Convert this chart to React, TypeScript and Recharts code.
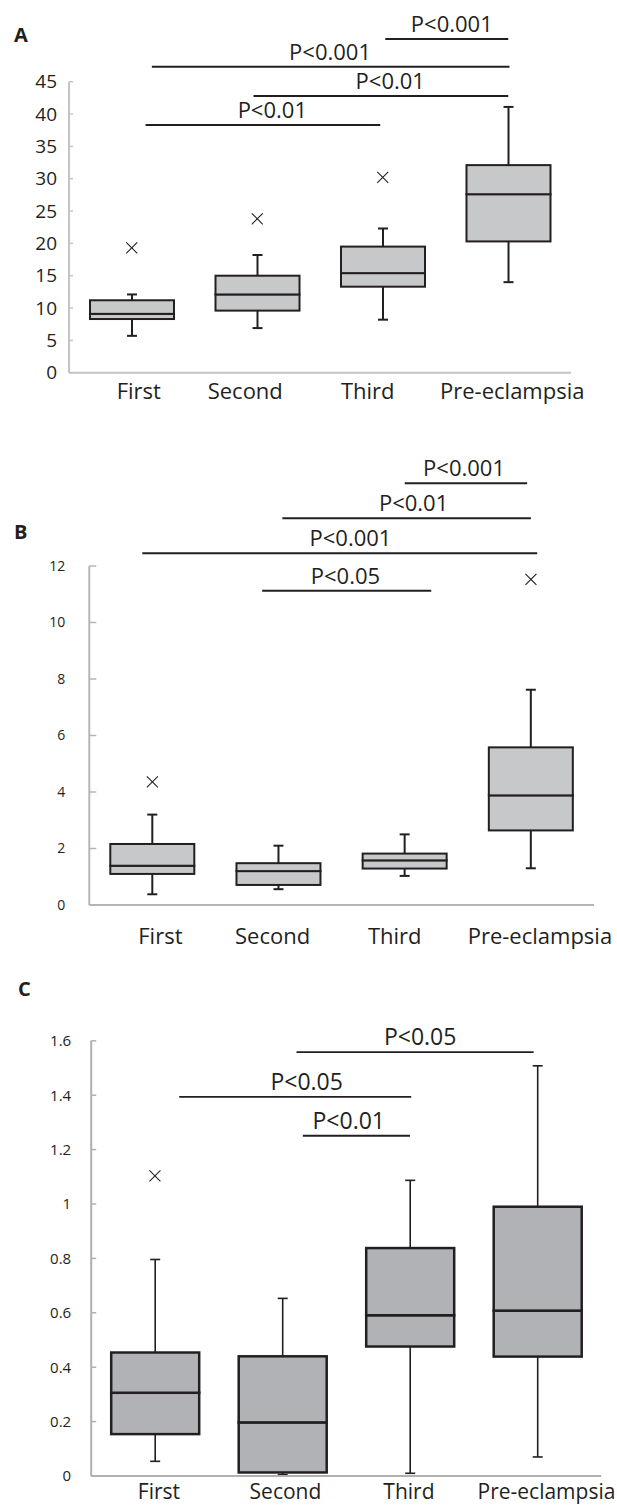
import React from 'react';
import { ComposedChart, Bar, XAxis, YAxis, Scatter, ReferenceLine, ReferenceDot } from 'recharts';

const categories = ['First', 'Second', 'Third', 'Pre-eclampsia'];
const groupPos = [1, 2, 3, 4];

// panel A
const aMin = [5.7, 6.9, 8.2, 14.0];
const aQ1 = [8.3, 9.6, 13.3, 20.3];
const aMedian = [9.1, 12.1, 15.4, 27.6];
const aQ3 = [11.2, 15.0, 19.5, 32.1];
const aMax = [12.1, 18.2, 22.3, 41.1];
const aOutliers = [19.3, 23.8, 30.2, null];
const aTicks = [0, 5, 10, 15, 20, 25, 30, 35, 40, 45];
const aSigText = ['P<0.001', 'P<0.001', 'P<0.01', 'P<0.01'];
const aSigFrom = [3.02, 1.16, 1.97, 1.11];
const aSigTo = [4.0, 4.01, 4.0, 2.98];
const aSigLevel = [51.6, 47.3, 42.8, 38.3];
const aSigLabelAt = [3.55, 2.58, 3.06, 2.12];

// panel B
const bMin = [0.38, 0.56, 1.03, 1.3];
const bQ1 = [1.1, 0.71, 1.29, 2.64];
const bMedian = [1.39, 1.2, 1.58, 3.88];
const bQ3 = [2.16, 1.48, 1.82, 5.58];
const bMax = [3.2, 2.1, 2.5, 7.62];
const bOutliers = [4.36, null, null, 11.53];
const bTicks = [0, 2, 4, 6, 8, 10, 12];
const bSigText = ['P<0.001', 'P<0.01', 'P<0.001', 'P<0.05'];
const bSigFrom = [3.0, 2.03, 0.92, 1.87];
const bSigTo = [3.97, 4.0, 4.05, 3.21];
const bSigLevel = [14.93, 13.69, 12.45, 11.12];
const bSigLabelAt = [3.47, 3.07, 2.57, 2.53];

// panel C
const cMin = [0.054, 0.005, 0.01, 0.07];
const cQ1 = [0.154, 0.013, 0.476, 0.439];
const cMedian = [0.306, 0.197, 0.591, 0.608];
const cQ3 = [0.454, 0.44, 0.838, 0.99];
const cMax = [0.796, 0.653, 1.087, 1.508];
const cOutliers = [1.103, null, null, null];
const cTicks = [0, 0.2, 0.4, 0.6, 0.8, 1, 1.2, 1.4, 1.6];
const cSigText = ['P<0.05', 'P<0.05', 'P<0.01'];
const cSigFrom = [2.11, 1.19, 2.16];
const cSigTo = [3.97, 3.01, 3.0];
const cSigLevel = [1.558, 1.394, 1.251];
const cSigLabelAt = [3.08, 2.19, 2.52];

const INK = '#231f20';
const FONT = '"Open Sans", sans-serif';

function buildRows(min: number[], q1: number[], med: number[], q3: number[], max: number[]) {
    return categories.map((name, i) => ({
        name,
        base: min[i],
        lowWhisker: q1[i] - min[i],
        lowBox: med[i] - q1[i],
        highBox: q3[i] - med[i],
        highWhisker: max[i] - q3[i],
    }));
}

const whisker = (end: 'top' | 'bottom', sw: number) => (p: any) => {
    const cx = p.x + p.width / 2;
    const capY = end === 'top' ? p.y : p.y + p.height;
    return (
        <g stroke={INK} strokeWidth={sw}>
            <line x1={cx} y1={p.y} x2={cx} y2={p.y + p.height} />
            <line x1={cx - 5} y1={capY} x2={cx + 5} y2={capY} />
        </g>
    );
};

const boxShape = (fill: string, sw: number) => (p: any) => (
    <rect x={p.x} y={p.y} width={p.width} height={p.height} fill={fill} stroke={INK} strokeWidth={sw} />
);

function Cross({ cx, cy }: any) {
    const s = 5.5;
    return (
        <g stroke={INK} strokeWidth={1.1}>
            <line x1={cx - s} y1={cy - s} x2={cx + s} y2={cy + s} />
            <line x1={cx - s} y1={cy + s} x2={cx + s} y2={cy - s} />
        </g>
    );
}

function CategoryTick({ x, y, payload, shift, size }: any) {
    const i = categories.indexOf(payload.value);
    return (
        <text x={x + (shift[i] ?? 0)} y={y} dy="0.71em" textAnchor="middle" fill={INK} fontSize={size} fontFamily={FONT}>
            {payload.value}
        </text>
    );
}

interface PanelProps {
    top: number; height: number; margin: any; xAxisHeight: number; xTickMargin: number; xFont: number; labelShift: number[];
    min: number[]; q1: number[]; med: number[]; q3: number[]; max: number[]; outliers: (number | null)[];
    ticks: number[]; yFont: number; yTickSize: number; yTickMargin: number;
    sigText: string[]; sigFrom: number[]; sigTo: number[]; sigLevel: number[]; sigLabelAt: number[]; sigFont: number; sigWidth: number;
    boxWidth: number; boxFill: string; boxStroke: number; whiskerStroke: number; axisColor: string;
}

function BoxPanel(p: PanelProps) {
    const rows = buildRows(p.min, p.q1, p.med, p.q3, p.max);
    const outlierRows = groupPos.map((x, i) => ({ x, y: p.outliers[i] })).filter(d => d.y != null);
    const sigLines = p.sigText.map((t, i) => (
        <ReferenceLine key={`l${i}`} xAxisId="num" ifOverflow="visible" stroke={INK} strokeWidth={p.sigWidth}
            segment={[{ x: p.sigFrom[i], y: p.sigLevel[i] }, { x: p.sigTo[i], y: p.sigLevel[i] }]} />
    ));
    const sigLabels = p.sigText.map((t, i) => (
        <ReferenceDot key={`t${i}`} xAxisId="num" ifOverflow="visible" x={p.sigLabelAt[i]} y={p.sigLevel[i]} r={0} fill="none" stroke="none"
            label={{ value: t, position: 'top', offset: 7, fill: INK, fontSize: p.sigFont, fontFamily: FONT }} />
    ));
    return (
        <div style={{ position: 'absolute', left: 0, top: p.top }}>
            <ComposedChart width={617} height={p.height} data={rows} margin={p.margin}>
                <XAxis xAxisId="cat" dataKey="name" type="category" interval={0} height={p.xAxisHeight}
                    tickLine={false} tickSize={0} tickMargin={p.xTickMargin}
                    axisLine={{ stroke: p.axisColor, strokeWidth: 2 }}
                    tick={(t: any) => <CategoryTick {...t} shift={p.labelShift} size={p.xFont} />} />
                <XAxis xAxisId="num" dataKey="x" type="number" domain={[0.5, 4.5]} allowDataOverflow hide />
                <YAxis domain={[p.ticks[0], p.ticks[p.ticks.length - 1]]} ticks={p.ticks} interval={0} width={60}
                    tickSize={p.yTickSize} tickMargin={p.yTickMargin}
                    axisLine={{ stroke: p.axisColor, strokeWidth: 2 }} tickLine={{ stroke: p.axisColor, strokeWidth: 1.5 }}
                    tick={{ fill: INK, fontSize: p.yFont, fontFamily: FONT }} />
                <Bar xAxisId="cat" dataKey="base" stackId="box" fill="none" barSize={p.boxWidth} isAnimationActive={false} />
                <Bar xAxisId="cat" dataKey="lowWhisker" stackId="box" barSize={p.boxWidth} shape={whisker('bottom', p.whiskerStroke)} isAnimationActive={false} />
                <Bar xAxisId="cat" dataKey="lowBox" stackId="box" barSize={p.boxWidth} shape={boxShape(p.boxFill, p.boxStroke)} isAnimationActive={false} />
                <Bar xAxisId="cat" dataKey="highBox" stackId="box" barSize={p.boxWidth} shape={boxShape(p.boxFill, p.boxStroke)} isAnimationActive={false} />
                <Bar xAxisId="cat" dataKey="highWhisker" stackId="box" barSize={p.boxWidth} shape={whisker('top', p.whiskerStroke)} isAnimationActive={false} />
                <Scatter xAxisId="num" data={outlierRows} dataKey="y" shape={Cross} isAnimationActive={false} />
                {sigLines}
                {sigLabels}
            </ComposedChart>
        </div>
    );
}

function PanelLetter({ text, left, top }: { text: string; left: number; top: number }) {
    return (
        <div style={{ position: 'absolute', left, top, fontSize: 20, lineHeight: '20px', fontWeight: 700, color: INK, fontFamily: FONT }}>
            {text}
        </div>
    );
}

export default function App() {
    return (
        <div style={{ position: 'absolute', left: 0, top: 0, width: 617, height: 1506, background: '#fff', overflow: 'hidden' }}>
            <PanelLetter text="A" left={14} top={24.5} />
            <PanelLetter text="B" left={14} top={522} />
            <PanelLetter text="C" left={18} top={979} />
            <BoxPanel top={0} height={420} margin={{ top: 81.7, left: 9, right: 46, bottom: 7.3 }} xAxisHeight={40} xTickMargin={11} xFont={22}
                labelShift={[7, -12, -15, 4]}
                min={aMin} q1={aQ1} med={aMedian} q3={aQ3} max={aMax} outliers={aOutliers}
                ticks={aTicks} yFont={19} yTickSize={-4} yTickMargin={16}
                sigText={aSigText} sigFrom={aSigFrom} sigTo={aSigTo} sigLevel={aSigLevel} sigLabelAt={aSigLabelAt} sigFont={22} sigWidth={2}
                boxWidth={84} boxFill="#c7c8ca" boxStroke={2} whiskerStroke={2} axisColor="#c4c4c4" />
            <BoxPanel top={430} height={530} margin={{ top: 136, left: 29.3, right: 23, bottom: 5 }} xAxisHeight={50} xTickMargin={23} xFont={22}
                labelShift={[8, -6, -10, 9]}
                min={bMin} q1={bQ1} med={bMedian} q3={bQ3} max={bMax} outliers={bOutliers}
                ticks={bTicks} yFont={14} yTickSize={-7} yTickMargin={31}
                sigText={bSigText} sigFrom={bSigFrom} sigTo={bSigTo} sigLevel={bSigLevel} sigLabelAt={bSigLabelAt} sigFont={22} sigWidth={2}
                boxWidth={84} boxFill="#c7c8ca" boxStroke={2} whiskerStroke={2} axisColor="#b5b5b5" />
            <BoxPanel top={960} height={546} margin={{ top: 80.8, left: 31.2, right: 15.8, bottom: 0 }} xAxisHeight={30} xTickMargin={8.5} xFont={21}
                labelShift={[4, 3, -1, 9]}
                min={cMin} q1={cQ1} med={cMedian} q3={cQ3} max={cMax} outliers={cOutliers}
                ticks={cTicks} yFont={15} yTickSize={-5} yTickMargin={25}
                sigText={cSigText} sigFrom={cSigFrom} sigTo={cSigTo} sigLevel={cSigLevel} sigLabelAt={cSigLabelAt} sigFont={23} sigWidth={1.8}
                boxWidth={88} boxFill="#b1b2b5" boxStroke={2.5} whiskerStroke={1.6} axisColor="#b0b0b0" />
        </div>
    );
}
